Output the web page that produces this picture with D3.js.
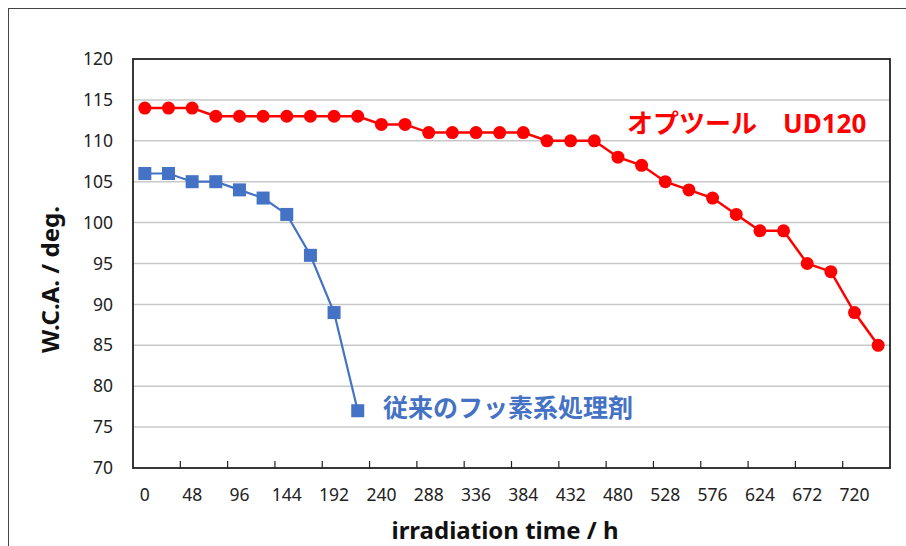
<!DOCTYPE html>
<html><head><meta charset="utf-8">
<script src="https://cdn.jsdelivr.net/npm/d3@7"></script>
<style>body{margin:0;background:#fff}svg{display:block}</style>
</head><body>
<svg id="c" width="906" height="546"></svg>
<script>
const categories = d3.range(0, 745, 24); // 0..744 h
const tickLabels = [0,48,96,144,192,240,288,336,384,432,480,528,576,624,672,720];
const yTicks = [70,75,80,85,90,95,100,105,110,115,120];
const seriesUD120 = [114,114,114,113,113,113,113,113,113,113,112,112,111,111,111,111,111,110,110,110,108,107,105,104,103,101,99,99,95,94,89,85];
const seriesConv = [106,106,105,105,104,103,101,96,89,77];
const labelUD = "オプツール　UD120";
const labelConv = "従来のフッ素系処理剤";

const svg = d3.select("#c");
const m = {l:133, t:59, r:890, b:468};
const x = d3.scaleBand().domain(categories).range([m.l, m.r]).padding(0);
const y = d3.scaleLinear().domain([70,120]).range([m.b, m.t]);
const cx = d => x(d) + x.bandwidth()/2;
const font = "'Noto Sans','Noto Sans CJK JP',sans-serif";

// outer border
svg.append("rect").attr("x",8.5).attr("y",8.5).attr("width",920).attr("height",560)
  .attr("fill","none").attr("stroke","#444").attr("stroke-width",1);

// gridlines
svg.append("g").selectAll("line").data(yTicks.slice(1,-1)).join("line")
  .attr("x1",m.l).attr("x2",m.r).attr("y1",d=>y(d)).attr("y2",d=>y(d))
  .attr("stroke","#c8c8c8").attr("stroke-width",1.5);

// plot border
svg.append("rect").attr("x",m.l).attr("y",m.t).attr("width",m.r-m.l).attr("height",m.b-m.t)
  .attr("fill","none").attr("stroke","#222").attr("stroke-width",1.8);

// y axis labels
const yAxis = d3.axisLeft(y).tickValues(yTicks).tickSize(0).tickPadding(20);
const gy = svg.append("g").attr("transform",`translate(${m.l},0)`).call(yAxis);
gy.select(".domain").remove();
gy.selectAll("text").attr("font-family",font).attr("font-size",17.5).attr("fill","#222");

// x axis labels
const xAxis = d3.axisBottom(x).tickValues(tickLabels).tickSize(0).tickPadding(21);
const gx = svg.append("g").attr("transform",`translate(0,${m.b})`).call(xAxis);
gx.select(".domain").remove();
gx.selectAll("text").attr("font-family",font).attr("font-size",17.5).attr("fill","#222");

// x tick marks at band boundaries every 2 categories
svg.append("g").selectAll("line").data(tickLabels.slice(1)).join("line")
  .attr("x1",d=>x(d)).attr("x2",d=>x(d)).attr("y1",m.b).attr("y2",m.b-7)
  .attr("stroke","#222").attr("stroke-width",1.2);

// axis titles
svg.append("text").attr("x",505).attr("y",539).attr("text-anchor","middle")
  .attr("font-family",font).attr("font-weight","bold").attr("font-size",24).attr("fill","#111")
  .text("irradiation time / h");
svg.append("text").attr("transform",`translate(59,${(m.t+m.b)/2 + 16}) rotate(-90)`).attr("text-anchor","middle")
  .attr("font-family",font).attr("font-weight","bold").attr("font-size",24).attr("fill","#111")
  .text("W.C.A. / deg.");

const line = d3.line().x((d,i)=>cx(categories[i])).y(d=>y(d));

// red series
svg.append("path").datum(seriesUD120).attr("d",line).attr("fill","none")
  .attr("stroke","#ff0000").attr("stroke-width",2.5);
svg.append("g").selectAll("circle").data(seriesUD120).join("circle")
  .attr("cx",(d,i)=>cx(categories[i])).attr("cy",d=>y(d)).attr("r",6.5).attr("fill","#ff0000");

// blue series
svg.append("path").datum(seriesConv).attr("d",line).attr("fill","none")
  .attr("stroke","#4472c4").attr("stroke-width",2.2);
svg.append("g").selectAll("rect").data(seriesConv).join("rect")
  .attr("x",(d,i)=>cx(categories[i])-6.5).attr("y",d=>y(d)-6.5).attr("width",13).attr("height",13)
  .attr("fill","#4472c4");

// labels
svg.append("text").attr("x",627).attr("y",133).attr("font-family",font).attr("font-weight","bold")
  .attr("font-size",26).attr("fill","#ff0000").text(labelUD);
svg.append("text").attr("x",383).attr("y",417).attr("font-family",font).attr("font-weight","bold")
  .attr("font-size",25).attr("fill","#4472c4").text(labelConv);
</script>
</body></html>
